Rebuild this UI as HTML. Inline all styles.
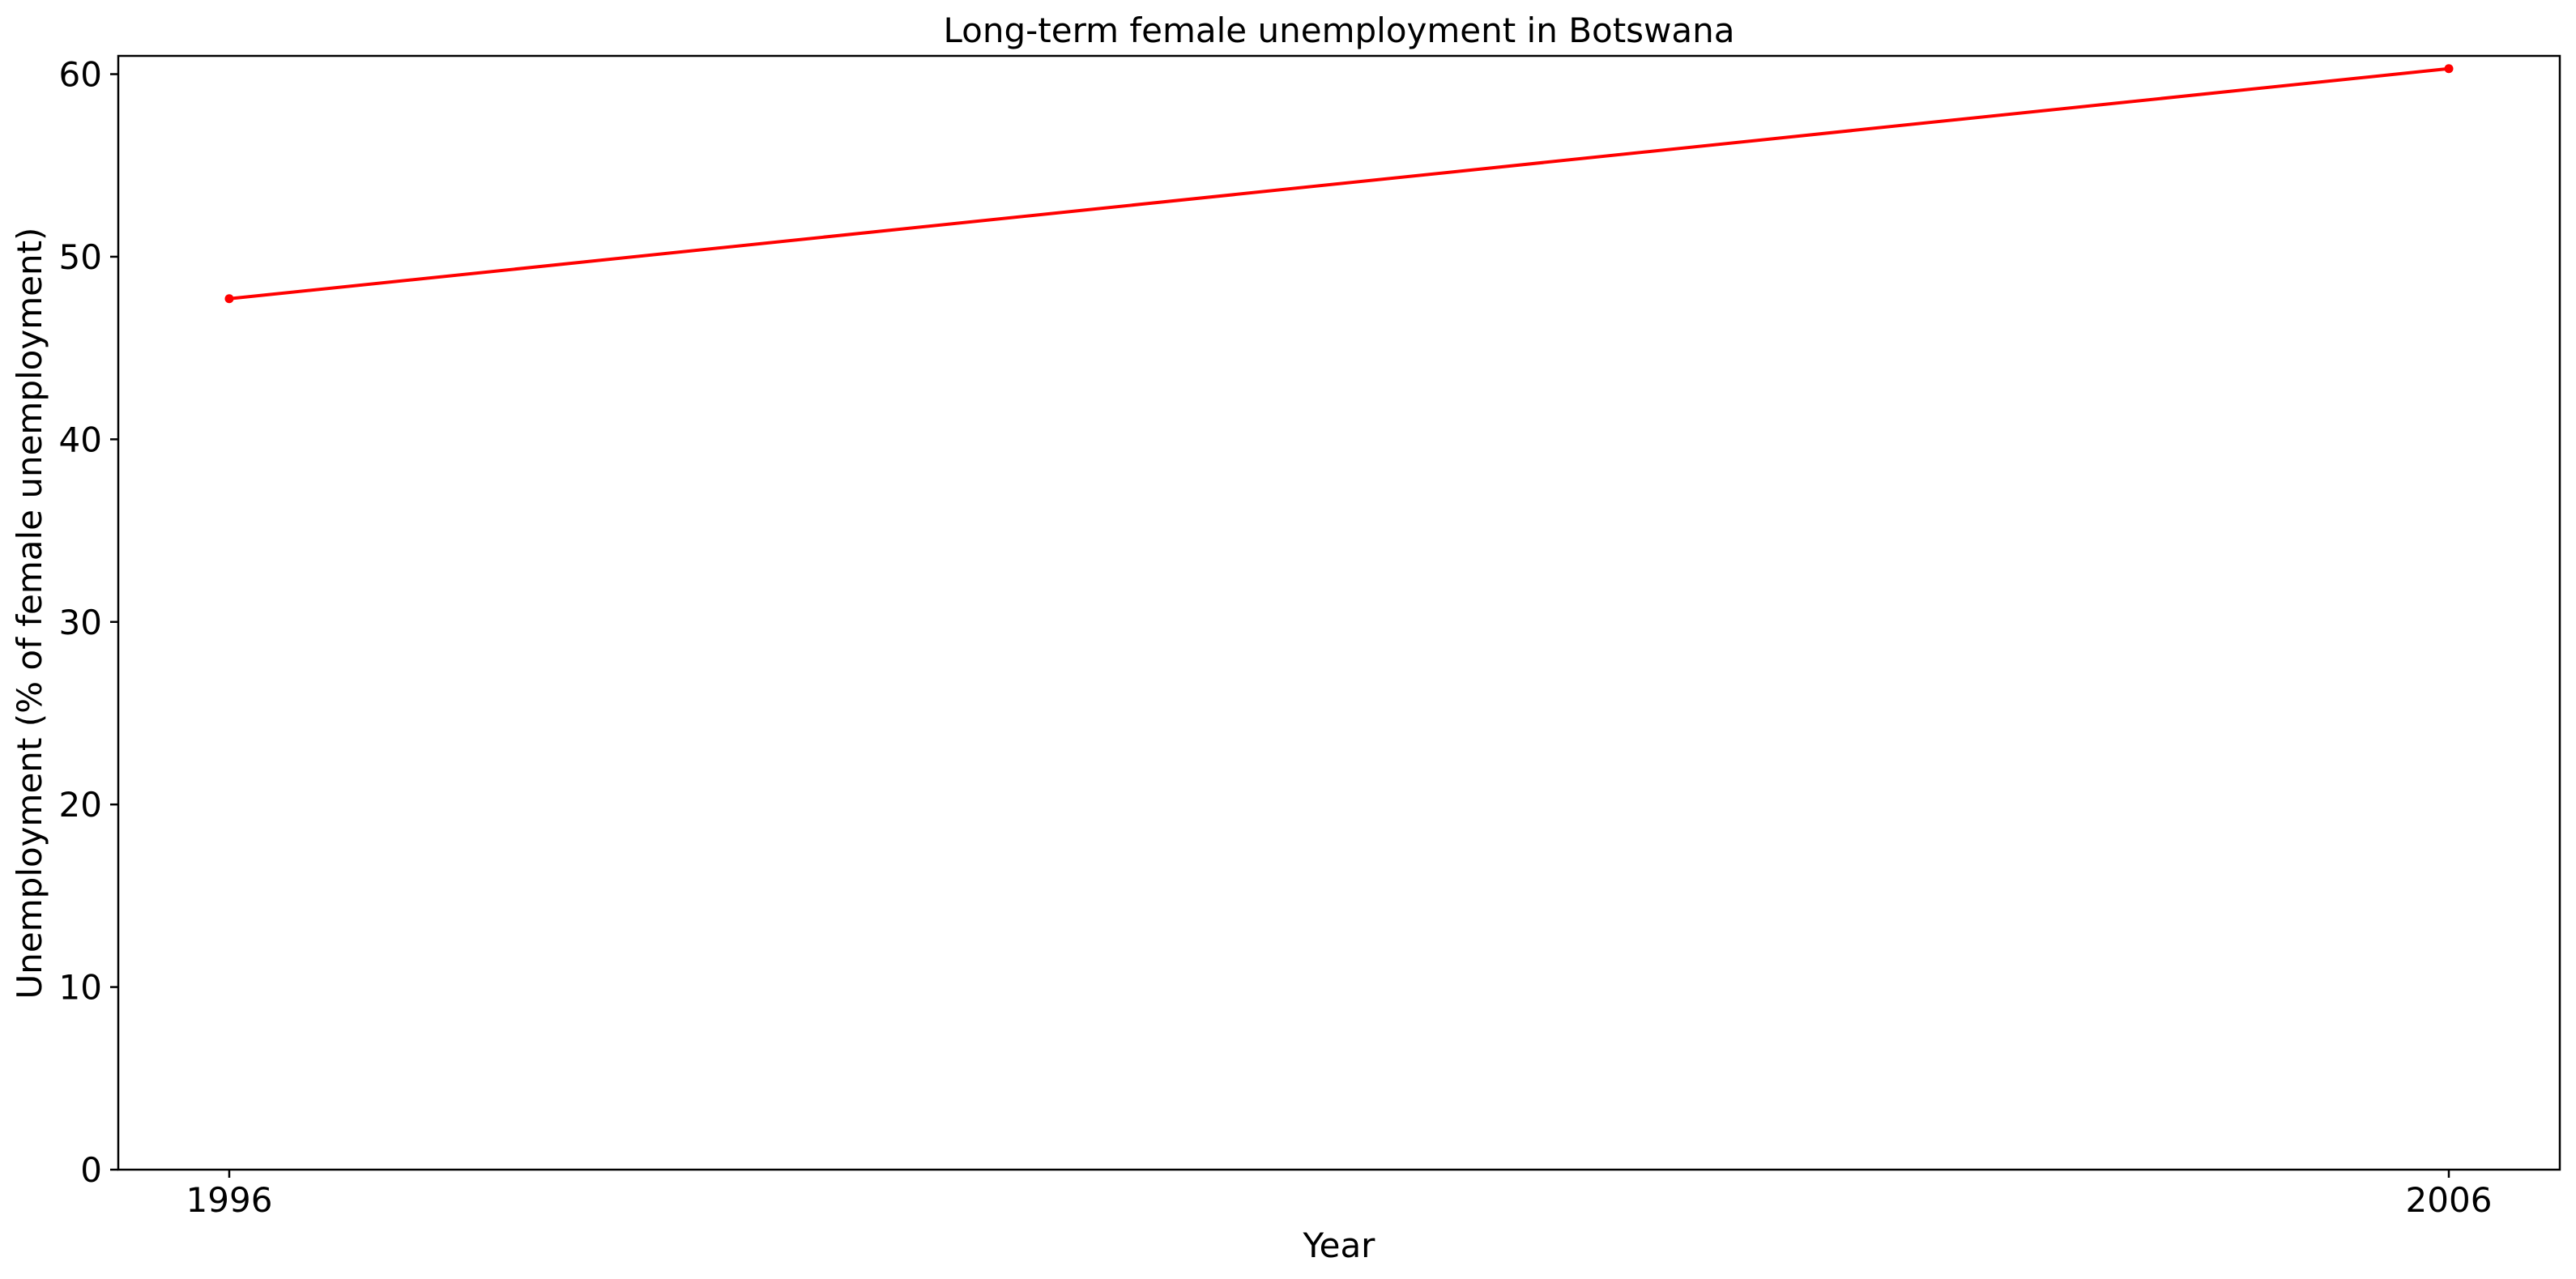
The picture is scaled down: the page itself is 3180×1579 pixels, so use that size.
<!DOCTYPE html>
<html><head><meta charset="utf-8"><style>
html,body{margin:0;padding:0;background:#fff;}
svg{display:block;font-family:"DejaVu Sans","Liberation Sans",sans-serif;}
</style></head><body>
<svg id="chart" width="3180" height="1579" viewBox="0 0 3180 1579" xmlns="http://www.w3.org/2000/svg">
<rect width="3180" height="1579" fill="#fff"/>
<text x="1653" y="52" font-size="42" text-anchor="middle">Long-term female unemployment in Botswana</text>
<text x="1653" y="1552" font-size="42" text-anchor="middle">Year</text>
<text transform="translate(51,757) rotate(-90)" font-size="42" text-anchor="middle">Unemployment (% of female unemployment)</text>
<g id="ticks"></g>
<g id="marks"></g>
<rect x="146" y="69" width="3014" height="1375" fill="none" stroke="#000" stroke-width="2.5"/>
</svg>
<script>
const years = [1996, 2006];
const values = [47.7, 60.3];
const yTicks = [0, 10, 20, 30, 40, 50, 60];
const xTicks = [1996, 2006];

const L = 146, R = 3160, T = 69, B = 1444;
const xMin = 1995.5, xMax = 2006.5, yMin = 0, yMax = 61;
const sx = v => L + (v - xMin) / (xMax - xMin) * (R - L);
const sy = v => B - (v - yMin) / (yMax - yMin) * (B - T);
const NS = "http://www.w3.org/2000/svg";
const ticks = document.getElementById('ticks');
const marks = document.getElementById('marks');
function mk(tag, attrs, parent) {
  const e = document.createElementNS(NS, tag);
  for (const k in attrs) e.setAttribute(k, attrs[k]);
  parent.appendChild(e);
  return e;
}
yTicks.forEach(t => {
  const y = sy(t);
  const l = mk('line', {x1: L - 10, x2: L, y1: y, y2: y, stroke: '#000', 'stroke-width': 2.5}, ticks);
  
  
  const tx = mk('text', {x: L - 20, y: y + 15, 'font-size': 42, 'text-anchor': 'end'}, ticks);
  tx.textContent = t;
  
  
});
xTicks.forEach(t => {
  const x = sx(t);
  const l = mk('line', {x1: x, x2: x, y1: B, y2: B + 10, stroke: '#000', 'stroke-width': 2.5}, ticks);
  
  
  const tx = mk('text', {x: x, y: B + 52, 'font-size': 42, 'text-anchor': 'middle'}, ticks);
  tx.textContent = t;
  
  
});
const pts = years.map((yr, i) => sx(yr) + ',' + sy(values[i])).join(' ');
const line = mk('polyline', {points: pts, fill: 'none', stroke: '#ff0000', 'stroke-width': 4}, marks);


years.forEach((yr, i) => {
  const c = mk('circle', {cx: sx(yr), cy: sy(values[i]), r: 5.5, fill: '#ff0000'}, marks);
  
  
});
</script>
</body></html>
